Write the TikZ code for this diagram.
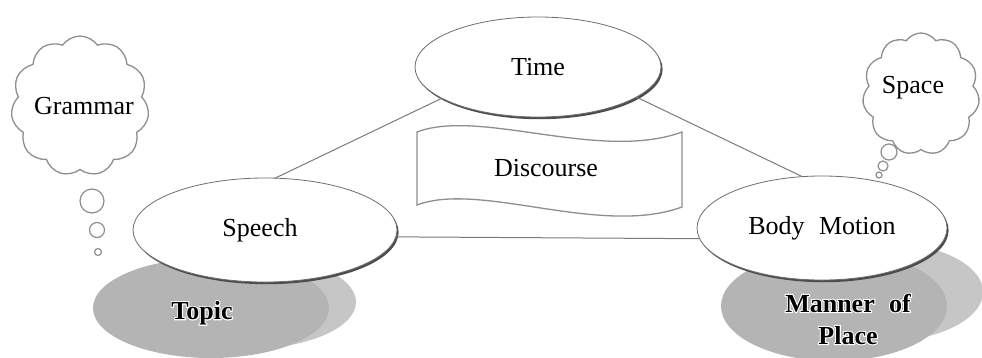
\documentclass[tikz,border=0pt]{standalone}
\usepackage{fontspec}
\setmainfont{Liberation Serif}
\newfontfamily\halofont[FakeBold=8]{Liberation Serif Bold}
\usetikzlibrary{shapes.geometric,shapes.symbols,shadows}
\definecolor{cloudline}{HTML}{8E8E8E}
\definecolor{ovalline}{HTML}{6E6E6E}
\definecolor{linkcol}{HTML}{7A7A7A}
\definecolor{shadowmain}{HTML}{B4B4B4}
\definecolor{shadowlight}{HTML}{C6C6C6}
\begin{document}
\begin{tikzpicture}[x=1pt,y=-1pt,
  every node/.style={font=\fontsize{26}{30}\selectfont},
  oval/.style={ellipse, draw=ovalline, line width=0.8pt, fill=white, inner sep=0pt, outer sep=0pt,
    drop shadow={shadow xshift=1.6pt, shadow yshift=-2.2pt, fill=black!70, opacity=1}},
  thought/.style={cloud, cloud puffs=11, cloud puff arc=110, aspect=1, draw=cloudline, line width=1.3pt, fill=white, inner sep=0pt},
  bubble/.style={circle, draw=cloudline, line width=1.2pt, inner sep=0pt, fill=white},
  link/.style={draw=linkcol, line width=1pt},
  disc/.style={ellipse, inner sep=0pt, outer sep=0pt},
  halo/.style={text=white, font=\fontsize{26}{32}\halofont, align=center},
  haloin/.style={text=black, font=\fontsize{26}{32}\selectfont\bfseries, align=center},
  banner/.style={draw=cloudline, line width=1.3pt, fill=white},
]
\useasboundingbox (0,0) rectangle (982,357);

% shadow discs
\node[disc, fill=shadowlight, minimum width=220pt, minimum height=94pt] (topiclight) at (246,302) {};
\node[disc, fill=shadowmain, minimum width=236pt, minimum height=100pt] (topicdisc) at (211,308) {};
\node[disc, fill=shadowlight, minimum width=206pt, minimum height=100pt] (mannerlight) at (880,292) {};
\node[disc, fill=shadowmain, minimum width=226pt, minimum height=110pt] (mannerdisc) at (834,306) {};

\node[halo] (topichalo) at (202,313) {Topic};
\node[haloin] (topic) at (202,313) {Topic};
\node[halo] (mannerhalo) at (848,319) {Manner\hspace{0.3em} of\\Place};
\node[haloin] (manner) at (848,319) {Manner\hspace{0.3em} of\\Place};

% thought clouds
\node[thought, minimum width=138pt, minimum height=140pt] (grammarcloud) at (80,106) {};
\node (grammar) at (84,106) {Grammar};
\node[bubble, minimum size=24pt] (gb1) at (92,201) {};
\node[bubble, minimum size=15pt] (gb2) at (97,230) {};
\node[bubble, minimum size=7pt] (gb3) at (98,252) {};

\node[thought, minimum width=117pt, minimum height=122pt] (space) at (921,94) {};
\node (spacetext) at (913,88) {Space};
\node[bubble, minimum size=16pt] (sb1) at (889,152) {};
\node[bubble, minimum size=10pt] (sb2) at (883,166) {};
\node[bubble, minimum size=6pt] (sb3) at (879,175) {};

% banner
\draw[banner] (417,132) .. controls (480,108) and (600,162) .. (682,132)
  -- (682,207) .. controls (600,237) and (480,181) .. (417,205) -- cycle;
\node (discourse) at (546,168) {Discourse};

% ovals
\node[oval, minimum width=246pt, minimum height=100pt] (time) at (538,67) {Time};
\node[oval, minimum width=264pt, minimum height=104pt] (speech) at (265,230) {\hspace{-10pt}Speech};
\node[oval, minimum width=250pt, minimum height=104pt] (body) at (822,228) {Body\hspace{0.3em} Motion};

% connectors
\draw[link] (speech.79) -- (time.198);
\draw[link] (time.-17) -- (body.111);
\draw[link] (speech.-3.5) -- (body.185);
\end{tikzpicture}
\end{document}
